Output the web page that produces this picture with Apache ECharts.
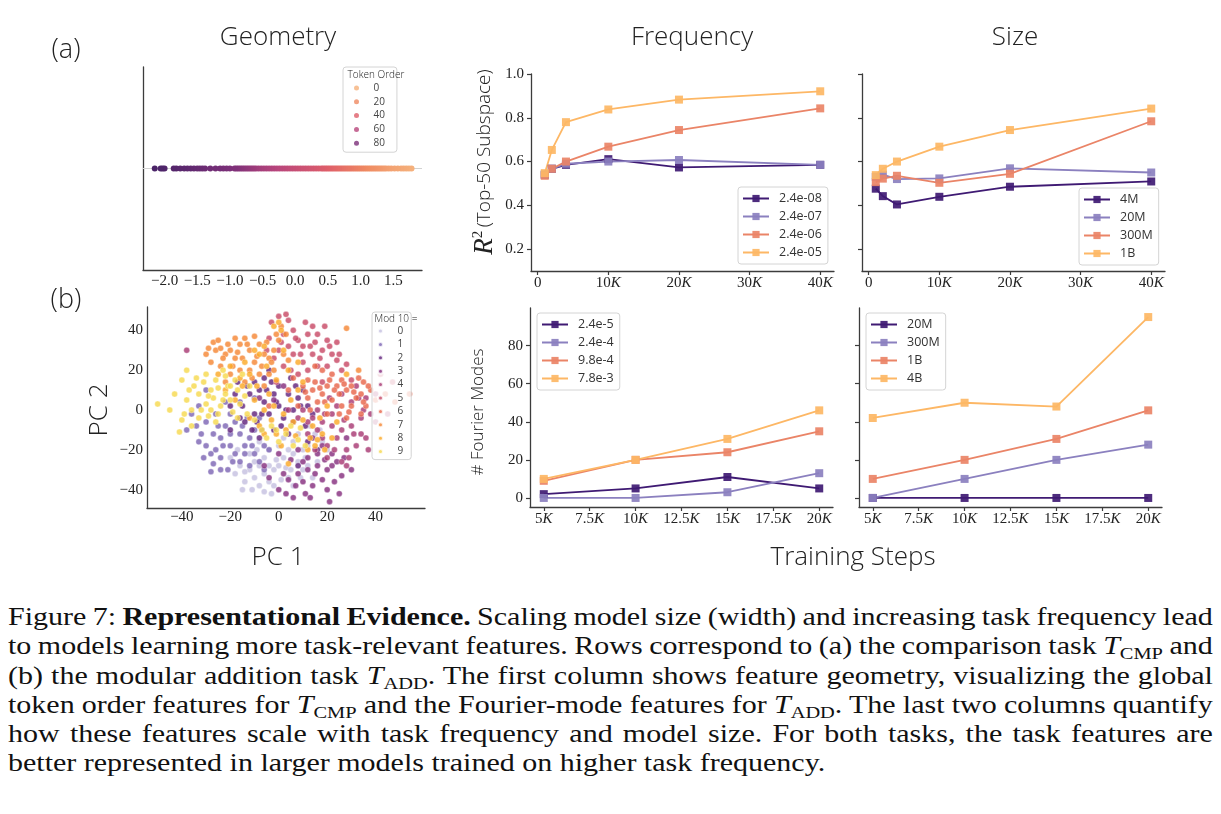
<!DOCTYPE html>
<html>
<head>
<meta charset="utf-8">
<script src="https://cdn.jsdelivr.net/npm/echarts@6/dist/echarts.min.js"></script>
<style>
  html, body { margin: 0; padding: 0; background: #fff; }
  #chart { width: 1221px; height: 592px; }
  #caption {
    position: absolute; left: 8px; top: 602px; width: 1004px;
    transform: scaleX(1.2); transform-origin: 0 0;
    font-family: 'Liberation Serif', 'Times New Roman', serif;
    font-size: 25px; line-height: 29.3px; color: #111; word-spacing: -2px;
  }
  #caption div { text-align: justify; text-align-last: justify; white-space: nowrap; }
  #caption div.last { text-align-last: left; word-spacing: 0; }
  #caption sub { font-size: 17px; vertical-align: -5px; line-height: 0; }
</style>
</head>
<body>
<div id="chart"></div>
<div id="caption">
  <div>Figure 7: <b>Representational Evidence.</b> Scaling model size (width) and increasing task frequency lead</div>
  <div>to models learning more task-relevant features. Rows correspond to (a) the comparison task <i>T</i><sub>CMP</sub> and</div>
  <div>(b) the modular addition task <i>T</i><sub>ADD</sub>. The first column shows feature geometry, visualizing the global</div>
  <div>token order features for <i>T</i><sub>CMP</sub> and the Fourier-mode features for <i>T</i><sub>ADD</sub>. The last two columns quantify</div>
  <div>how these features scale with task frequency and model size. For both tasks, the task features are</div>
  <div class="last">better represented in larger models trained on higher task frequency.</div>
</div>
<script>
// ---- data ----
// (a) geometry: 1D projection of token order features, listed by token order 0..99
const tokenX = [
  1.78, 1.74, 1.70, 1.66, 1.62, 1.57, 1.52, 1.47, 1.43, 1.39,
  1.36, 1.33, 1.30, 1.27, 1.24, 1.21, 1.18, 1.15, 1.12, 1.09,
  1.06, 1.03, 1.00, 0.97, 0.94, 0.91, 0.88, 0.85, 0.82, 0.79,
  0.76, 0.73, 0.70, 0.67, 0.64, 0.61, 0.58, 0.55, 0.52, 0.49,
  0.46, 0.43, 0.40, 0.36, 0.32, 0.28, 0.24, 0.20, 0.16, 0.12,
  0.08, 0.04, 0.00, -0.04, -0.08, -0.12, -0.16, -0.20, -0.24, -0.28,
  -0.32, -0.36, -0.40, -0.44, -0.48, -0.52, -0.56, -0.60, -0.63, -0.66,
  -0.69, -0.72, -0.75, -0.78, -0.81, -0.84, -0.87, -0.90, -0.93, -1.00,
  -1.05, -1.10, -1.15, -1.22, -1.30, -1.38, -1.42, -1.46, -1.50, -1.55,
  -1.60, -1.65, -1.70, -1.76, -1.82, -1.86, -2.00, -2.03, -2.06, -2.15
];
const tokenLegend = ['0', '20', '40', '60', '80'];
const geomTicks = [-2.0, -1.5, -1.0, -0.5, 0.0, 0.5, 1.0, 1.5];

// (a) R^2 vs training steps
const stepsA = [1000, 2000, 4000, 10000, 20000, 40000];
const freqANames = ['2.4e-08', '2.4e-07', '2.4e-06', '2.4e-05'];
const r2F_24e08 = [0.540, 0.567, 0.585, 0.611, 0.573, 0.585];
const r2F_24e07 = [0.540, 0.567, 0.590, 0.600, 0.607, 0.585];
const r2F_24e06 = [0.535, 0.567, 0.600, 0.668, 0.744, 0.843];
const r2F_24e05 = [0.547, 0.653, 0.780, 0.838, 0.883, 0.921];
const sizeANames = ['4M', '20M', '300M', '1B'];
const r2S_4M = [0.476, 0.442, 0.404, 0.439, 0.485, 0.509];
const r2S_20M = [0.530, 0.540, 0.520, 0.523, 0.569, 0.550];
const r2S_300M = [0.506, 0.522, 0.535, 0.503, 0.544, 0.784];
const r2S_1B = [0.538, 0.567, 0.600, 0.668, 0.744, 0.842];
const stepTicksA = [0, 10000, 20000, 30000, 40000];
const r2Ticks = [0.2, 0.4, 0.6, 0.8, 1.0];

// (b) Fourier modes vs training steps
const stepsB = [5000, 10000, 15000, 20000];
const freqBNames = ['2.4e-5', '2.4e-4', '9.8e-4', '7.8e-3'];
const fmF_24e5 = [2, 5, 11, 5];
const fmF_24e4 = [0, 0, 3, 13];
const fmF_98e4 = [9, 20, 24, 35];
const fmF_78e3 = [10, 20, 31, 46];
const sizeBNames = ['20M', '300M', '1B', '4B'];
const fmS_20M = [0, 0, 0, 0];
const fmS_300M = [0, 10, 20, 28];
const fmS_1B = [10, 20, 31, 46];
const fmS_4B = [42, 50, 48, 95];
const stepTicksB = [5000, 7500, 10000, 12500, 15000, 17500, 20000];
const fmTicks = [0, 20, 40, 60, 80];

// (b) geometry: PCA of tokens coloured by value mod 10
const pcTicks = [-40, -20, 0, 20, 40];
const mod0 = [[-12,-30],[-10,-34],[-8,-28],[-6,-32],[-4,-36],[-2,-30],[0,-28],[2,-24],[4,-20],[6,-22],[8,-26],[10,-20],[12,-18],[-14,-36],[-16,-28],[-8,-38],[-2,-38],[4,-34],[-6,-24],[0,-18],[-10,-26],[6,-16],[-4,-20],[2,-14],[8,-12],[-12,-22],[-20,-24],[-18,-32],[14,-34],[-3,-42],[10,-30],[16,-26],[-8,-16],[6,-38],[-14,-31],[3,-29],[11,-24],[15,-12],[18,-16],[20,-20],[13,-8],
  [-15,-40],[-11,-40],[-6,-41],[1,-35],[5,-30],[9,-34],[-1,-25],[-9,-20],[12,-28],[17,-10],[-17,-20],[-4,-28]];
const mod1 = [[-34,-8],[-32,-12],[-30,-18],[-28,-22],[-26,-20],[-24,-14],[-22,-8],[-20,-2],[-18,-6],[-16,-12],[-14,-18],[-12,-14],[-10,-10],[-8,-4],[-20,-18],[-18,-22],[-16,-26],[-24,-30],[-28,-31],[-30,-6],[-26,-2],[-22,4],[-14,-22],[-10,-22],[-6,-18],[-12,-28],[-36,-2],[-38,-10],[-20,-12],[-24,-24],[-4,-20],[-8,-26],[-30,10],[-10,6],[-16,4],
  [-33,-16],[-27,-12],[-23,-18],[-19,-26],[-15,-8],[-11,-18],[-7,-10],[-27,-27],[-31,-24],[-21,-30],[-13,-4],[-25,-8],[-33,2],[-6,-30]];
const mod2 = [[-15,2],[-12,8],[-10,-2],[-8,10],[-6,4],[-4,-2],[-2,8],[0,2],[2,-4],[4,8],[6,0],[8,6],[-14,-6],[-10,14],[-6,16],[0,12],[-18,8],[-20,2],[-16,-4],[10,10],[12,2],[14,-2],[-4,20],[-2,-10],[4,-12],[-8,-14],[12,-16],[16,-20],[8,-28],[-20,-10],
  [-13,12],[-9,-6],[-5,10],[-1,4],[3,0],[7,12],[11,-8],[-17,14],[-11,-10],[1,-8],[5,16],[-7,-2],[9,2],[-3,14]];
const mod3 = [[0,-40],[4,-35],[8,-32],[12,-30],[16,-28],[20,-30],[24,-26],[18,-35],[14,-38],[6,-44],[10,-36],[2,-32],[22,-22],[26,-33],[16,-22],[12,-24],[5,-25],[-6,-28],[25,-42],[20,-40],[8,-20],[14,-14],[0,-22],[28,-14],[18,-18],[-2,5],[2,12],[6,-6],[-8,6],[22,-28],
  [3,-42],[7,-38],[11,-42],[15,-32],[19,-25],[23,-36],[27,-24],[10,-26],[30,-30],[-4,-34],[13,-44],[21,-46]];
const mod4 = [[10,0],[14,-4],[18,-6],[22,-8],[26,-10],[30,-8],[34,-4],[36,-14],[32,-18],[28,-20],[24,-14],[20,-18],[16,-10],[12,-6],[24,2],[30,4],[36,6],[26,-26],[20,-24],[38,-2],[32,12],[22,-2],[8,-4],[4,0],[40,8],[-38,30],[28,-28],[16,0],[34,-12],[18,-14],[40,-6],[45,-2],
  [12,-12],[15,-20],[19,-2],[23,-20],[27,-5],[31,-12],[35,0],[29,-24],[37,-20],[33,6],[21,6],[26,8]];
const mod5 = [[0,47],[4,45],[2,38],[6,40],[-4,36],[8,35],[10,32],[12,38],[15,34],[18,30],[20,35],[22,28],[24,25],[14,28],[6,28],[10,24],[16,22],[-2,26],[2,22],[8,18],[12,20],[20,22],[26,20],[30,15],[19,42],[0,30],[4,32],[-1,14],[14,42],[24,34],[18,14],[42,18],[47,14],
  [-3,44],[3,48],[7,36],[11,44],[16,38],[21,32],[25,28],[28,23],[5,20],[9,28],[13,32],[17,26],[-5,30],[1,34]];
const mod6 = [[10,12],[14,10],[18,8],[20,12],[22,5],[25,8],[28,10],[30,12],[32,6],[34,8],[36,2],[26,2],[24,12],[30,2],[16,4],[12,15],[20,-2],[28,-4],[34,-2],[15,22],[8,2],[4,10],[-4,2],[38,10],[22,18],[18,20],[26,15],[35,14],[12,6],[6,16],[40,5],[44,8],[48,4],[54,8],
  [11,9],[15,14],[19,4],[23,10],[27,13],[31,9],[35,4],[29,-1],[21,15],[17,11],[33,16],[37,12],[25,-2],[13,0]];
const mod7 = [[-27,34],[-26,30],[-24,31],[-22,28],[-20,30],[-18,26],[-16,33],[-14,36],[-12,30],[-10,24],[-8,33],[-6,28],[-4,26],[-2,30],[0,35],[-28,24],[-24,22],[-20,18],[-16,20],[-12,20],[-8,18],[-4,18],[-18,36],[-10,37],[-14,14],[-6,12],[-22,14],[2,28],[4,25],[-30,28],[3,38],[33,20],[28,41],[-2,20],
  [-29,31],[-25,35],[-21,33],[-17,29],[-13,33],[-9,27],[-5,34],[-1,38],[-19,22],[-15,26],[-11,16],[-7,22],[-3,24],[-23,26],[1,42]];
const mod8 = [[0,44],[-2,42],[1,40],[-8,28],[-5,22],[-12,18],[-15,12],[-10,5],[-6,0],[-3,-5],[2,-2],[5,5],[8,10],[-1,15],[4,20],[10,-5],[14,-8],[18,-12],[12,-20],[15,-18],[-8,-8],[-12,-4],[-18,5],[-20,22],[-25,18],[7,-13],[3,-10],[20,2],[28,18],[-6,32],[16,-15],[-4,8],[4,-27],[22,-14],[1,-18],[-14,24],[-10,30],
  [-16,16],[-9,12],[-2,2],[6,-6],[10,14],[13,-14],[17,-4],[24,-6],[-22,10],[-6,-12],[2,30],[8,24],[19,-20],[-1,-12]];
const mod9 = [[-50,3],[-40,-5],[-41,-11],[-40,15],[-38,5],[-36,0],[-35,12],[-33,8],[-31,14],[-30,3],[-29,-3],[-28,10],[-27,6],[-26,15],[-25,11],[-24,2],[-23,20],[-22,8],[-21,12],[-20,5],[-19,-1],[-18,15],[-17,10],[-16,3],[-14,7],[-13,-2],[-12,12],[-10,-5],[-7,-10],[-5,-14],[-3,-8],[0,-16],[3,-12],[6,-18],[9,-9],[-36,-8],[-33,-4],[-30,18],[-25,-2],[-34,16],[-28,0],[-22,17],
  [-45,0],[-43,8],[-39,-2],[-37,10],[-32,0],[-29,7],[-26,-6],[-23,5],[-20,12],[-17,-4],[-15,18],[-1,-10],[5,-8],[8,-15],[11,-18],[-38,20]];
const modLabels = ['0', '1', '2', '3', '4', '5', '6', '7', '8', '9'];

// ---- style ----
const serif = "'Liberation Serif', 'Times New Roman', serif";
const sans = "'Open Sans', 'Noto Sans', sans-serif";
const lineColors = ['#3f1a73', '#8b80bf', '#ea8467', '#fdb765'];
const modColors = ['#c6c1e0', '#7e66b4', '#62237c', '#86307f', '#a83a74', '#c84b66', '#e8664c', '#f58736', '#fbaa28', '#f7d94f'];
const tokenColors = ['#f5b17c', '#ef8a62', '#df5f6a', '#b8467c', '#7c3079', '#4b2468'];
const tokenLegendColors = ['#f5b17c', '#ef8a62', '#df5f6a', '#b8467c', '#7c3079'];
const axisColor = '#3c3c3c';

function fmtK(v) { return v === 0 ? '0' : (v / 1000) + '{k|K}'; }
function fmtSigned1(v) { return (v < 0 ? '\u2212' : '') + Math.abs(v).toFixed(1); }
function fmtSigned0(v) { return (v < 0 ? '\u2212' : '') + Math.abs(v); }
function stripName(n) { return n.split('|')[1]; }

function axis(grid, min, max, ticks, fmt, showTicks, margin) {
  return {
    type: 'value', gridIndex: grid, min: min, max: max,
    axisLine: { show: true, onZero: false, lineStyle: { color: axisColor, width: 1.3 } },
    axisTick: { show: showTicks, length: 4, customValues: ticks, lineStyle: { color: axisColor, width: 1.2 } },
    axisLabel: {
      show: !!fmt, customValues: ticks, formatter: fmt, margin: margin,
      fontFamily: serif, fontSize: 15, color: '#222',
      rich: { k: { fontFamily: serif, fontStyle: 'italic', fontSize: 15, color: '#222' } }
    },
    splitLine: { show: false }
  };
}

function lineSeries(prefix, name, xs, ys, color, idx) {
  return {
    type: 'line', name: prefix + '|' + name, xAxisIndex: idx, yAxisIndex: idx,
    data: xs.map((x, i) => [x, ys[i]]),
    symbol: 'rect', symbolSize: 8,
    lineStyle: { width: 1.8, color: color },
    itemStyle: { color: color, opacity: 0.92 },
    emphasis: { disabled: true }
  };
}

function lineLegend(prefix, names, left, top) {
  return {
    orient: 'vertical', left: left, top: top,
    padding: [5, 6, 5, 4], itemWidth: 26, itemHeight: 9, itemGap: 5,
    data: names.map(n => prefix + '|' + n), formatter: stripName,
    textStyle: { fontFamily: sans, fontSize: 12.5, color: '#333', lineHeight: 13, padding: [0, 0, 0, 5] },
    borderColor: '#d4d4d4', borderWidth: 1, borderRadius: 3,
    backgroundColor: 'rgba(255,255,255,0.85)', selectedMode: false
  };
}

function label(text, x, y, size, rot) {
  return {
    type: 'text', x: x, y: y, rotation: rot || 0, z: 100,
    style: { text: text, fontFamily: sans, fontSize: size, fontWeight: 300, fill: '#222', align: 'center', verticalAlign: 'middle' }
  };
}

const series = [];
// (a) geometry
series.push({
  type: 'scatter', name: 'geom', xAxisIndex: 0, yAxisIndex: 0,
  data: tokenX.map((x, i) => [x, 0, i]),
  symbolSize: 6, itemStyle: { opacity: 1 },
  emphasis: { disabled: true },
  z: 4
});
series.push({
  type: 'scatter', name: 'zero', xAxisIndex: 0, yAxisIndex: 0, data: [], z: 1,
  markLine: {
    silent: true, symbol: 'none', label: { show: false }, z: 1,
    lineStyle: { color: '#d2d2d2', width: 1, type: 'solid' },
    data: [{ yAxis: 0 }]
  }
});
tokenLegend.forEach((n, i) => series.push({
  type: 'scatter', name: 'tok|' + n, xAxisIndex: 0, yAxisIndex: 0, data: [],
  itemStyle: { color: tokenLegendColors[i] }
}));
// (a) frequency
[r2F_24e08, r2F_24e07, r2F_24e06, r2F_24e05].forEach((ys, i) =>
  series.push(lineSeries('fa', freqANames[i], stepsA, ys, lineColors[i], 1)));
// (a) size
[r2S_4M, r2S_20M, r2S_300M, r2S_1B].forEach((ys, i) =>
  series.push(lineSeries('sa', sizeANames[i], stepsA, ys, lineColors[i], 2)));
// (b) geometry
[mod0, mod1, mod2, mod3, mod4, mod5, mod6, mod7, mod8, mod9].forEach((pts, i) => series.push({
  type: 'scatter', name: 'mod|' + modLabels[i], xAxisIndex: 3, yAxisIndex: 3,
  data: pts, symbolSize: 6,
  itemStyle: { color: modColors[i], opacity: 0.82, borderColor: '#fff', borderWidth: 0.4 },
  emphasis: { disabled: true }
}));
// (b) frequency
[fmF_24e5, fmF_24e4, fmF_98e4, fmF_78e3].forEach((ys, i) =>
  series.push(lineSeries('fb', freqBNames[i], stepsB, ys, lineColors[i], 4)));
// (b) size
[fmS_20M, fmS_300M, fmS_1B, fmS_4B].forEach((ys, i) =>
  series.push(lineSeries('sb', sizeBNames[i], stepsB, ys, lineColors[i], 5)));

const option = {
  animation: false,
  backgroundColor: '#fff',
  grid: [
    { left: 143, top: 67, width: 279, height: 203 },
    { left: 531, top: 74, width: 303, height: 197 },
    { left: 862, top: 74, width: 303, height: 197 },
    { left: 147, top: 307, width: 278, height: 201 },
    { left: 530, top: 308, width: 303, height: 199 },
    { left: 859, top: 308, width: 303, height: 199 }
  ],
  xAxis: [
    axis(0, -2.33, 1.94, geomTicks, fmtSigned1, false, 4),
    axis(1, -950, 41950, stepTicksA, fmtK, true, 5),
    axis(2, -950, 41950, stepTicksA, fmtK, true, 5),
    axis(3, -54.4, 60.4, pcTicks, fmtSigned0, false, 2),
    axis(4, 4250, 20750, stepTicksB, fmtK, true, 5),
    axis(5, 4250, 20750, stepTicksB, fmtK, true, 5)
  ],
  yAxis: [
    axis(0, -1, 1, [], null, false, 4),
    axis(1, 0.1, 1.0, r2Ticks, v => v.toFixed(1), true, 7),
    axis(2, 0.1, 1.0, r2Ticks, null, true, 7),
    axis(3, -49.2, 51.7, pcTicks, fmtSigned0, false, 4),
    axis(4, -4.75, 99.75, fmTicks, fmtSigned0, true, 7),
    axis(5, -4.75, 99.75, fmTicks, null, true, 7)
  ],
  visualMap: {
    type: 'continuous', show: false, seriesIndex: 0, dimension: 2,
    min: 0, max: 99, inRange: { color: tokenColors }
  },
  legend: [
    {
      orient: 'vertical', left: 343, top: 67, padding: [16, 12, 4, 11],
      itemWidth: 24, itemHeight: 5, itemGap: 3.8, icon: 'circle',
      data: tokenLegend.map(n => 'tok|' + n), formatter: stripName,
      textStyle: { fontFamily: sans, fontSize: 10, color: '#444', lineHeight: 10 },
      borderColor: '#d4d4d4', borderWidth: 1, borderRadius: 3,
      backgroundColor: 'rgba(255,255,255,0.85)', selectedMode: false
    },
    lineLegend('fa', freqANames, 738, 187),
    lineLegend('sa', sizeANames, 1079, 188),
    {
      orient: 'vertical', left: 372, top: 312, padding: [14, 8, 3, 5],
      itemWidth: 24, itemHeight: 5, itemGap: 3.4, icon: 'circle',
      data: modLabels.map(n => 'mod|' + n), formatter: stripName,
      textStyle: { fontFamily: sans, fontSize: 10, color: '#444', lineHeight: 10 },
      borderColor: '#d4d4d4', borderWidth: 1, borderRadius: 3,
      backgroundColor: 'rgba(255,255,255,0.8)', selectedMode: false
    },
    lineLegend('fb', freqBNames, 537, 313),
    lineLegend('sb', sizeBNames, 866, 313)
  ],
  graphic: [
    label('(a)', 66, 50, 27),
    label('(b)', 66, 300, 27),
    label('Geometry', 278, 38, 26),
    label('Frequency', 692, 38, 26),
    label('Size', 1015, 38, 26),
    label('PC 2', 100, 410, 26, Math.PI / 2),
    label('PC 1', 278, 558, 26),
    label('Training Steps', 853, 558, 26),
    label('# Fourier Modes', 478, 412, 17, Math.PI / 2),
    label('Token Order', 376, 75, 10),
    label('Mod 10 =', 396, 319, 10),
    {
      type: 'text', x: 485, y: 162, rotation: Math.PI / 2, z: 100,
      style: {
        text: '{r|R}{s|2} {t|(Top-50 Subspace)}', align: 'center', verticalAlign: 'middle',
        rich: {
          r: { fontFamily: serif, fontStyle: 'italic', fontSize: 27, fill: '#222', lineHeight: 28 },
          s: { fontFamily: serif, fontSize: 15, fill: '#222', verticalAlign: 'top', lineHeight: 28 },
          t: { fontFamily: sans, fontSize: 19, fontWeight: 300, fill: '#222', lineHeight: 28 }
        }
      }
    }
  ],
  series: series
};

const chart = echarts.init(document.getElementById('chart'));
chart.setOption(option);
</script>
</body>
</html>
